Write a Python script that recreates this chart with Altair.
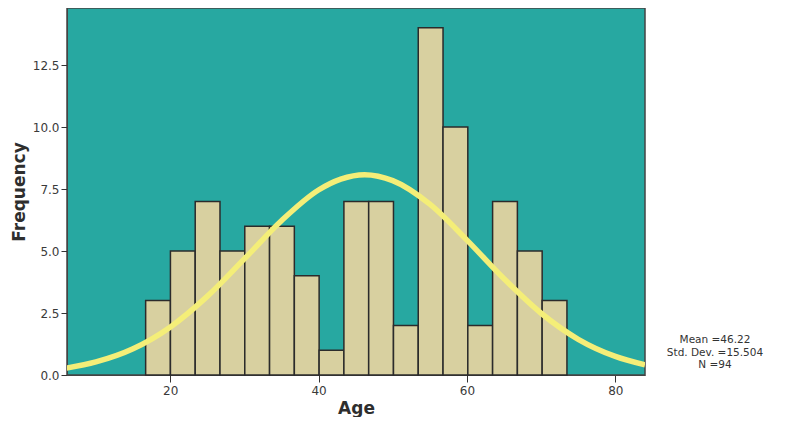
import altair as alt
import pandas as pd

# Histogram bins (Age)
bin_start = [16.7, 20.04, 23.38, 26.72, 30.06, 33.4, 36.74, 40.08, 43.42, 46.76,
             50.1, 53.44, 56.78, 60.12, 63.46, 66.8, 70.14]
bin_end = [20.04, 23.38, 26.72, 30.06, 33.4, 36.74, 40.08, 43.42, 46.76, 50.1,
           53.44, 56.78, 60.12, 63.46, 66.8, 70.14, 73.48]
counts = [3, 5, 7, 5, 6, 6, 4, 1, 7, 7, 2, 14, 10, 2, 7, 5, 3]

# Normal curve
curve_x = [6, 10, 15, 20, 25, 30, 35, 40, 43, 46.2, 50, 55, 60, 65, 70, 75, 80, 84]
curve_y = [0.28, 0.53, 1.06, 1.93, 3.17, 4.68, 6.22, 7.46, 7.9, 8.08, 7.84, 6.89,
           5.44, 3.88, 2.49, 1.44, 0.75, 0.41]

stats_lines = ["Mean =46.22", "Std. Dev. =15.504", "N =94"]

bars = pd.DataFrame({"x0": bin_start, "x1": bin_end, "count": counts})
curve = pd.DataFrame({"age": curve_x, "freq": curve_y})
stats = pd.DataFrame({"label": stats_lines, "row": [0, 1, 2]})

FONT = "DejaVu Sans"
W, H = 578, 367

xscale = alt.Scale(domain=[6.1, 84.0], nice=False, zero=False)
yscale = alt.Scale(domain=[0, 14.8], nice=False)

xaxis = alt.Axis(values=[20, 40, 60, 80], title="Age", grid=False,
                 labelFontSize=12, titleFontSize=17, titleFontWeight="bold",
                 labelColor="#3a3a3a", titleColor="#2e2e2e", tickColor="#333333",
                 domainColor="#444444", tickSize=7, labelPadding=3, titlePadding=4)
yaxis = alt.Axis(values=[0, 2.5, 5, 7.5, 10, 12.5], format=".1f", title="Frequency",
                 grid=False, labelFontSize=12, titleFontSize=17,
                 titleFontWeight="bold", labelColor="#3a3a3a",
                 titleColor="#2e2e2e", tickColor="#333333", domainColor="#444444",
                 tickSize=6, labelPadding=2, titlePadding=4)

hist = alt.Chart(bars).mark_rect(fill="#d8d0a0", stroke="#2b2b2b", strokeWidth=1.5).encode(
    x=alt.X("x0:Q", scale=xscale, axis=xaxis),
    x2="x1:Q",
    y=alt.Y("count:Q", scale=yscale, axis=yaxis),
    y2=alt.datum(0),
)

line = alt.Chart(curve).mark_line(color="#f4ee78", strokeWidth=5.5,
                                  interpolate="monotone", clip=True).encode(
    x=alt.X("age:Q", scale=xscale),
    y=alt.Y("freq:Q", scale=yscale),
)

txt = alt.Chart(stats).mark_text(font=FONT, fontSize=10.5, color="#333333",
                                 align="center", baseline="middle").encode(
    x=alt.value(W + 70),
    y=alt.Y("row:Q", scale=alt.Scale(domain=[0, 2], range=[H - 35, H - 10]), axis=None),
    text="label:N",
)

chart = alt.layer(alt.layer(hist, line), txt).resolve_scale(y="independent").properties(
    width=W, height=H,
    autosize=alt.AutoSizeParams(type="none"),
    padding={"left": 59, "top": 0, "right": 134, "bottom": 42},
).configure_view(fill="#27a8a1", stroke="#444444", strokeWidth=1.5).configure_axis(
    labelFont=FONT, titleFont=FONT
)

chart.save("out.html", embed_options={"renderer": "svg", "actions": False})
